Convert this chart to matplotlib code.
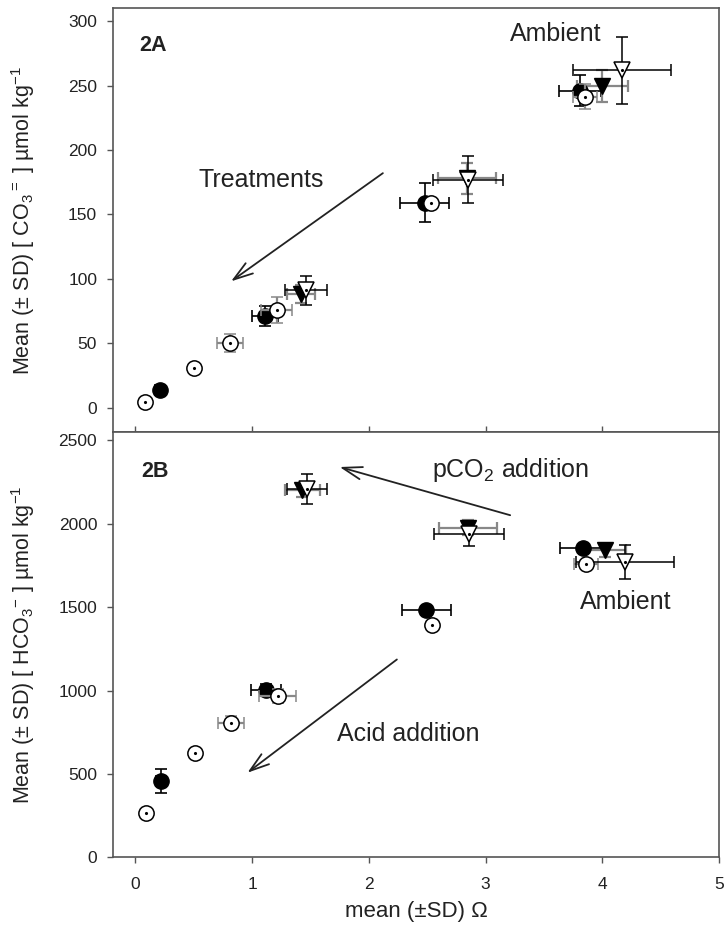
import matplotlib
matplotlib.use("Agg")
from matplotlib import pyplot as plt

plt.rcParams['font.family'] = ['Liberation Sans', 'DejaVu Sans']
plt.rcParams['mathtext.fontset'] = 'custom'
plt.rcParams['mathtext.rm'] = 'Liberation Sans'

# Panel A: carbonate ion vs saturation state
a_fc_x = [0.21, 1.11, 2.48, 3.81]
a_fc_y = [13.5, 71, 159, 246]
a_fc_xerr = [0.04, 0.11, 0.21, 0.18]
a_fc_yerr = [3, 8, 15, 12]

a_oc_x = [0.08, 0.50, 0.81, 1.21, 2.53, 3.85]
a_oc_y = [4.5, 30.6, 50, 76, 159, 241.5]
a_oc_xerr = [0.0, 0.0, 0.11, 0.13, 0.0, 0.10]
a_oc_yerr = [0, 0, 7, 10, 0, 10]

a_ft_x = [1.42, 2.84, 4.00]
a_ft_y = [88, 178, 250]
a_ft_xerr = [0.12, 0.25, 0.22]
a_ft_yerr = [7, 12, 12.5]

a_ot_x = [1.46, 2.85, 4.17]
a_ot_y = [91, 177, 262]
a_ot_xerr = [0.18, 0.30, 0.42]
a_ot_yerr = [11, 18, 26]

# Panel B: bicarbonate vs saturation state
b_fc_x = [0.22, 1.12, 2.49, 3.83]
b_fc_y = [457, 1006, 1482, 1855]
b_fc_xerr = [0.04, 0.13, 0.21, 0.19]
b_fc_yerr = [70, 30, 20, 20]

b_oc_x = [0.09, 0.51, 0.82, 1.22, 2.54, 3.86]
b_oc_y = [268, 623, 807, 968, 1392, 1761]
b_oc_xerr = [0.0, 0.0, 0.11, 0.16, 0.0, 0.10]
b_oc_yerr = [0, 0, 40, 40, 0, 20]

b_ft_x = [1.43, 2.85, 4.02]
b_ft_y = [2200, 1975, 1841]
b_ft_xerr = [0.15, 0.25, 0.18]
b_ft_yerr = [40, 45, 40]

b_ot_x = [1.47, 2.86, 4.19]
b_ot_y = [2210, 1941, 1771]
b_ot_xerr = [0.17, 0.30, 0.42]
b_ot_yerr = [90, 75, 100]

x_ticks = [0, 1, 2, 3, 4, 5]
a_yticks = [0, 50, 100, 150, 200, 250, 300]
b_yticks = [0, 500, 1000, 1500, 2000, 2500]

GRAY = '#888888'
FRAME = '#555555'
INK = '#222222'


def draw_panel(ax, fc, oc, ft, ot):
    ms = 11
    # filled circles
    ax.errorbar(fc[0], fc[1], xerr=fc[2], yerr=fc[3], fmt='o', ms=ms,
                mfc='black', mec='black', ecolor='black', elinewidth=1.2,
                capsize=4, capthick=1.2, zorder=3)
    # filled triangles
    ax.errorbar(ft[0], ft[1], xerr=ft[2], yerr=ft[3], fmt='v', ms=ms,
                mfc='black', mec='black', ecolor=GRAY, elinewidth=1.6,
                capsize=4, capthick=1.6, zorder=3)
    # open circles with dot
    ax.errorbar(oc[0], oc[1], xerr=oc[2], yerr=oc[3], fmt='o', ms=ms,
                mfc='white', mec='black', mew=1.1, ecolor=GRAY,
                elinewidth=1.6, capsize=4, capthick=1.6, zorder=4)
    ax.plot(oc[0], oc[1], '.', ms=2.5, color='black', zorder=5)
    # open triangles with dot
    ax.errorbar(ot[0], ot[1], xerr=ot[2], yerr=ot[3], fmt='v', ms=ms,
                mfc='white', mec='black', mew=1.1, ecolor='black',
                elinewidth=1.1, capsize=4, capthick=1.1, zorder=4)
    ax.plot(ot[0], ot[1], '.', ms=2.5, color='black', zorder=5)
    for s in ax.spines.values():
        s.set_color(FRAME)
        s.set_linewidth(1.2)
    ax.tick_params(colors=FRAME, labelcolor=INK, labelsize=12.5,
                   length=4.5, width=1)
    ax.tick_params(axis='y', pad=7)
    ax.tick_params(axis='x', pad=10)


fig = plt.figure(figsize=(7.25, 9.27), dpi=100)
axA = fig.add_axes([0.156, 0.534, 0.836, 0.457])
axB = fig.add_axes([0.156, 0.0752, 0.836, 0.4588])

draw_panel(axA, (a_fc_x, a_fc_y, a_fc_xerr, a_fc_yerr),
           (a_oc_x, a_oc_y, a_oc_xerr, a_oc_yerr),
           (a_ft_x, a_ft_y, a_ft_xerr, a_ft_yerr),
           (a_ot_x, a_ot_y, a_ot_xerr, a_ot_yerr))
draw_panel(axB, (b_fc_x, b_fc_y, b_fc_xerr, b_fc_yerr),
           (b_oc_x, b_oc_y, b_oc_xerr, b_oc_yerr),
           (b_ft_x, b_ft_y, b_ft_xerr, b_ft_yerr),
           (b_ot_x, b_ot_y, b_ot_xerr, b_ot_yerr))

axA.set_xlim(-0.19, 5.0)
axB.set_xlim(-0.19, 5.0)
axA.set_ylim(-19, 310)
axB.set_ylim(0, 2550)

axA.set_xticks(x_ticks[:-1])
axA.tick_params(axis='x', direction='in', labelbottom=False)
axA.set_yticks(a_yticks)
axB.set_xticks(x_ticks)
axB.set_yticks(b_yticks)

axA.set_ylabel('Mean (± SD) [ CO$_3$$^{=}$ ] µmol kg$^{-1}$',
               fontsize=15.5, color=INK)
axB.set_ylabel('Mean (± SD) [ HCO$_3$$^{-}$ ] µmol kg$^{-1}$',
               fontsize=15.5, color=INK)
axA.yaxis.set_label_coords(-0.125, 0.5)
axB.yaxis.set_label_coords(-0.125, 0.5)
axB.set_xlabel('mean (±SD) Ω', fontsize=16, color=INK, labelpad=6)

txt = dict(fontsize=18, color=INK)
arrow = dict(arrowstyle='->,head_length=1.4,head_width=0.45',
             color=INK, lw=1.3, shrinkA=0, shrinkB=0)

axA.text(0.03, 281, '2A', fontsize=15.5, fontweight='bold', va='center',
         color=INK)
axA.text(3.6, 290, 'Ambient', ha='center', va='center', **txt)
axA.text(1.08, 177, 'Treatments', ha='center', va='center', **txt)
axA.annotate('', xy=(0.82, 98), xytext=(2.12, 182), arrowprops=arrow)

axB.text(0.05, 2316, '2B', fontsize=15.5, fontweight='bold', va='center',
         color=INK)
axB.text(3.21, 2320, 'pCO$_2$ addition', ha='center', va='center', **txt)
axB.annotate('', xy=(1.75, 2340), xytext=(3.21, 2051), arrowprops=arrow)
axB.text(4.2, 1532, 'Ambient', ha='center', va='center', **txt)
axB.text(2.34, 739, 'Acid addition', ha='center', va='center', **txt)
axB.annotate('', xy=(0.96, 507), xytext=(2.24, 1186), arrowprops=arrow)

fig.savefig('out.png', dpi=100)
